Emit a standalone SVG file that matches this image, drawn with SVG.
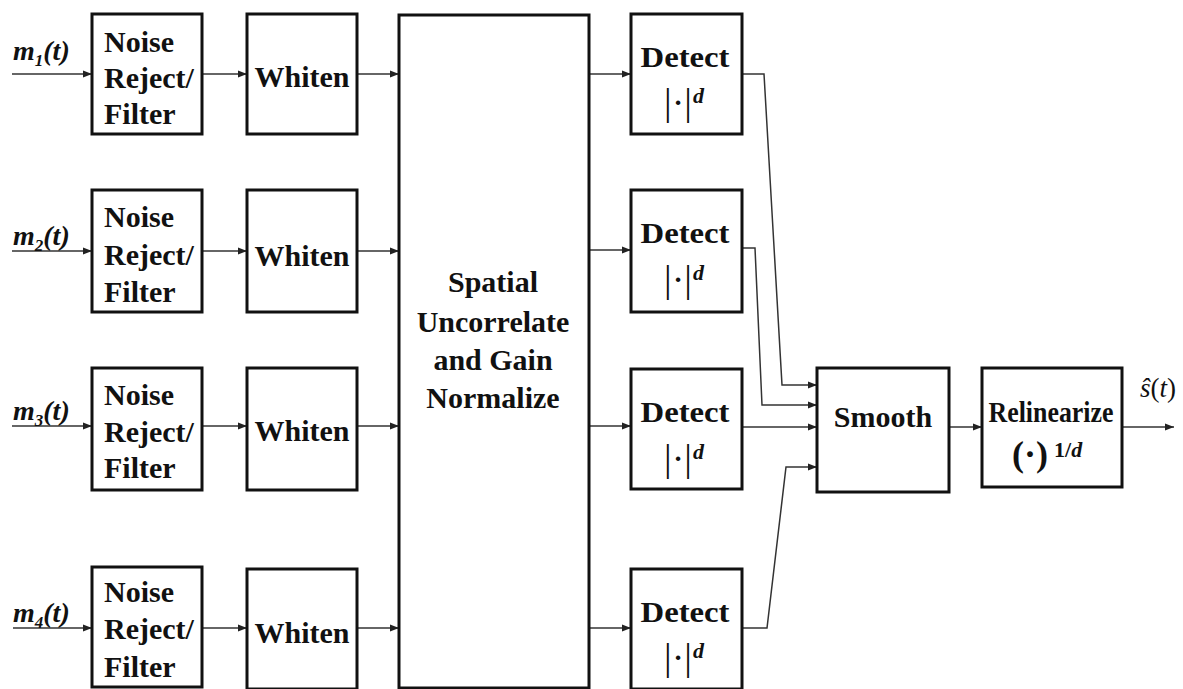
<svg xmlns="http://www.w3.org/2000/svg" width="1183" height="689" viewBox="0 0 1183 689">
<style>
.box{fill:#fff;stroke:#111;stroke-width:3}
.t{font-family:'Liberation Serif','DejaVu Serif',serif;font-weight:bold;font-size:30px;fill:#111}
.c{text-anchor:middle}
.lab{font-family:'Liberation Serif','DejaVu Serif',serif;font-weight:bold;font-style:italic;font-size:28px;fill:#111}
.bar{font-family:'Liberation Serif','DejaVu Serif',serif;font-size:38px;fill:#111;text-anchor:middle}
.sup{font-family:'Liberation Serif','DejaVu Serif',serif;font-weight:bold;font-style:italic;font-size:22px;fill:#111}
.ser{font-family:'Liberation Serif','DejaVu Serif',serif;fill:#111}
.conn path{fill:none;stroke:#333;stroke-width:1.5;marker-end:url(#ah)}
</style>
<defs>
<marker id="ah" markerUnits="userSpaceOnUse" markerWidth="10" markerHeight="8" refX="9" refY="4" orient="auto">
<path d="M0,0.5 L9,4 L0,7.5 Z" fill="#222"/>
</marker>
</defs>
<rect width="1183" height="689" fill="#fff"/>

<g id="connectors" class="conn">
<path d="M12,74 H92"/>
<path d="M12,251 H92"/>
<path d="M12,426 H92"/>
<path d="M13,628 H92"/>
<path d="M202,74 H247"/>
<path d="M202,251 H247"/>
<path d="M202,426 H247"/>
<path d="M202,628 H247"/>
<path d="M357,74 H399"/>
<path d="M357,251 H399"/>
<path d="M357,426 H399"/>
<path d="M357,628 H399"/>
<path d="M589,74 H631"/>
<path d="M589,250 H631"/>
<path d="M589,426 H631"/>
<path d="M589,628 H631"/>
<path d="M742,74 H764 L782,385 H817"/>
<path d="M742,248 H755 L762,405 H817"/>
<path d="M742,427 H817"/>
<path d="M742,628 H767 L786,467 H817"/>
<path d="M949,427 H982"/>
<path d="M1122,427 H1174"/>
</g>

<g id="labels">
<text class="lab" x="13" y="60">m<tspan font-size="17" dy="6">1</tspan><tspan dy="-6">(t)</tspan></text>
<text class="lab" x="13" y="245">m<tspan font-size="17" dy="6">2</tspan><tspan dy="-6">(t)</tspan></text>
<text class="lab" x="13" y="420">m<tspan font-size="17" dy="6">3</tspan><tspan dy="-6">(t)</tspan></text>
<text class="lab" x="13" y="622">m<tspan font-size="17" dy="6">4</tspan><tspan dy="-6">(t)</tspan></text>
<text class="ser" x="1140" y="397" font-size="27"><tspan font-style="italic">ŝ</tspan>(<tspan font-style="italic">t</tspan>)</text>
</g>

<g id="noise1"><rect class="box" x="92" y="14" width="110" height="120"/><text class="t" x="104" y="52">Noise</text><text class="t" x="104" y="88">Reject/</text><text class="t" x="104" y="124">Filter</text></g>
<g id="noise2"><rect class="box" x="92" y="190" width="110" height="122"/><text class="t" x="104" y="227">Noise</text><text class="t" x="104" y="265">Reject/</text><text class="t" x="104" y="302">Filter</text></g>
<g id="noise3"><rect class="box" x="92" y="368" width="110" height="122"/><text class="t" x="104" y="405">Noise</text><text class="t" x="104" y="442">Reject/</text><text class="t" x="104" y="478">Filter</text></g>
<g id="noise4"><rect class="box" x="92" y="567" width="110" height="120"/><text class="t" x="104" y="602">Noise</text><text class="t" x="104" y="639">Reject/</text><text class="t" x="104" y="677">Filter</text></g>

<g id="whiten1"><rect class="box" x="247" y="14" width="110" height="120"/><text class="t c" x="302" y="87">Whiten</text></g>
<g id="whiten2"><rect class="box" x="247" y="190" width="110" height="122"/><text class="t c" x="302" y="266">Whiten</text></g>
<g id="whiten3"><rect class="box" x="247" y="368" width="110" height="122"/><text class="t c" x="302" y="441">Whiten</text></g>
<g id="whiten4"><rect class="box" x="247" y="569" width="110" height="120"/><text class="t c" x="302" y="643">Whiten</text></g>

<g id="spatial"><rect class="box" x="399" y="15" width="190" height="673"/>
<text class="t c" x="493" y="292" font-size="31">Spatial</text>
<text class="t c" x="493" y="332" font-size="31">Uncorrelate</text>
<text class="t c" x="493" y="370" font-size="31">and Gain</text>
<text class="t c" x="493" y="408" font-size="31">Normalize</text></g>

<g id="detect1"><rect class="box" x="631" y="14" width="111" height="120"/><text class="t c" x="685" y="67" textLength="89" lengthAdjust="spacingAndGlyphs">Detect</text><text class="bar" x="678" y="115">|·|</text><text class="sup" x="693" y="103">d</text></g>
<g id="detect2"><rect class="box" x="631" y="190" width="111" height="122"/><text class="t c" x="685" y="243" textLength="89" lengthAdjust="spacingAndGlyphs">Detect</text><text class="bar" x="678" y="292">|·|</text><text class="sup" x="693" y="280">d</text></g>
<g id="detect3"><rect class="box" x="631" y="369" width="111" height="120"/><text class="t c" x="685" y="422" textLength="89" lengthAdjust="spacingAndGlyphs">Detect</text><text class="bar" x="678" y="471">|·|</text><text class="sup" x="693" y="459">d</text></g>
<g id="detect4"><rect class="box" x="631" y="569" width="111" height="120"/><text class="t c" x="685" y="622" textLength="89" lengthAdjust="spacingAndGlyphs">Detect</text><text class="bar" x="678" y="670">|·|</text><text class="sup" x="693" y="658">d</text></g>

<g id="smooth"><rect class="box" x="817" y="368" width="132" height="124"/><text class="t c" x="883" y="427">Smooth</text></g>

<g id="relinearize"><rect class="box" x="982" y="368" width="140" height="119"/>
<text class="t c" x="1051" y="422" font-size="25" textLength="125" lengthAdjust="spacingAndGlyphs">Relinearize</text>
<text class="ser" x="1030" y="466" font-weight="bold" font-size="36" text-anchor="middle">(·)</text>
<text class="ser" x="1054" y="457" font-weight="bold" font-size="22">1/<tspan font-style="italic">d</tspan></text></g>
</svg>
